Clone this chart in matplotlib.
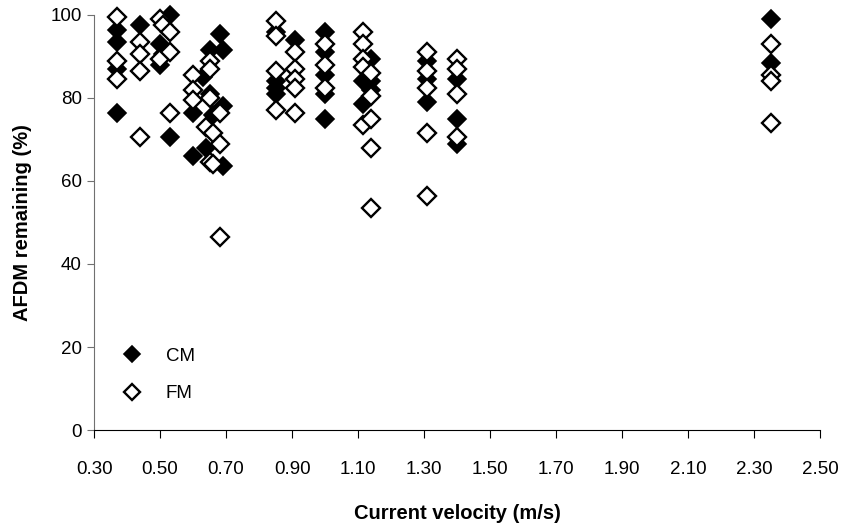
import matplotlib.pyplot as plt

plt.rcParams['font.family'] = ['Liberation Sans', 'DejaVu Sans']

# CM (filled diamonds)
cm_x = [0.37, 0.37, 0.37, 0.37, 0.44, 0.44, 0.50, 0.50, 0.51, 0.53, 0.53,
        0.60, 0.60, 0.63, 0.64, 0.65, 0.65, 0.66, 0.68, 0.69, 0.69, 0.69,
        0.85, 0.85, 0.85, 0.85, 0.91, 1.00, 1.00, 1.00, 1.00, 1.00,
        1.115, 1.115, 1.14, 1.14, 1.14, 1.31, 1.31, 1.31, 1.40, 1.40, 1.40,
        2.35, 2.35]
cm_y = [96.5, 93.5, 87, 76.5, 97.5, 86.5, 93, 88, 90.5, 100, 70.5,
        76.5, 66, 85, 68, 81, 91.5, 76, 95.5, 91.5, 78, 63.5,
        96, 84, 82.5, 81, 94, 96, 91, 85.5, 81, 75,
        84, 78.5, 89.5, 84, 82, 89, 84.5, 79, 84.5, 75, 69,
        99, 88.5]

# FM (open diamonds)
fm_x = [0.37, 0.37, 0.37, 0.44, 0.44, 0.44, 0.44, 0.50, 0.50, 0.51, 0.53, 0.53, 0.53,
        0.60, 0.60, 0.60, 0.65, 0.65, 0.65, 0.64, 0.66, 0.65, 0.66, 0.68, 0.68, 0.68,
        0.85, 0.85, 0.85, 0.85, 0.91, 0.91, 0.91, 0.91, 0.91, 1.00, 1.00, 1.00,
        1.115, 1.115, 1.115, 1.115, 1.115, 1.14, 1.14, 1.14, 1.14, 1.14,
        1.31, 1.31, 1.31, 1.31, 1.31, 1.40, 1.40, 1.40, 1.40,
        2.35, 2.35, 2.35, 2.35]
fm_y = [99.5, 89, 84.5, 93.5, 90.5, 86.5, 70.5, 99, 89.5, 97.5, 96, 91, 76.5,
        85.5, 82, 79.5, 89, 87, 80, 73, 71.5, 64.5, 64, 76.5, 69, 46.5,
        98.5, 95, 86.5, 77, 91, 87, 84.5, 82.5, 76.5, 93, 88, 82.5,
        96, 93, 89.5, 87.5, 73.5, 86, 80.5, 75, 68, 53.5,
        91, 86.5, 82.5, 71.5, 56.5, 89.5, 87, 81, 70.5,
        93, 85.5, 84, 74]

xticks = [0.30, 0.50, 0.70, 0.90, 1.10, 1.30, 1.50, 1.70, 1.90, 2.10, 2.30, 2.50]
yticks = [0, 20, 40, 60, 80, 100]

fig = plt.figure(figsize=(8.48, 5.26), dpi=100)
ax = fig.add_axes([0.111, 0.1825, 0.856, 0.789])

ax.plot(cm_x, cm_y, linestyle='none', marker='D', markersize=9.5,
        markerfacecolor='black', markeredgecolor='black', markeredgewidth=1.2,
        label='CM', clip_on=False)
ax.plot(fm_x, fm_y, linestyle='none', marker='D', markersize=9.5,
        markerfacecolor='white', markeredgecolor='black', markeredgewidth=1.7,
        label='FM', clip_on=False)

ax.set_xlim(0.30, 2.50)
ax.set_ylim(0, 100)
ax.set_xticks(xticks)
ax.set_xticklabels([f"{t:.2f}" for t in xticks])
ax.set_yticks(yticks)

for s in ['top', 'right']:
    ax.spines[s].set_visible(False)
ax.spines['left'].set_color('#707070')
ax.spines['bottom'].set_color('black')
ax.tick_params(axis='x', direction='out', length=6, pad=16, labelsize=13.5, color='black')
ax.tick_params(axis='y', direction='out', length=5, pad=4, labelsize=13.5, color='#707070')

ax.set_xlabel('Current velocity (m/s)', fontsize=14.5, fontweight='bold', labelpad=19)
ax.set_ylabel('AFDM remaining (%)', fontsize=14.5, fontweight='bold', labelpad=13)

ax.legend(loc='lower left', bbox_to_anchor=(0.003, 0.026), frameon=False,
          fontsize=13.5, handletextpad=0.8, labelspacing=1.1, markerscale=0.85)

fig.savefig('out.png', dpi=100)
